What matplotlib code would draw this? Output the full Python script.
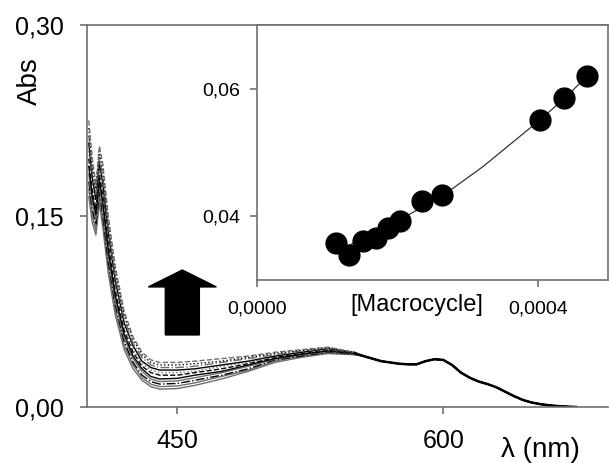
import matplotlib
matplotlib.use("Agg")
import matplotlib.pyplot as plt
from matplotlib.patches import FancyArrow

plt.rcParams['font.family'] = ['Liberation Sans', 'DejaVu Sans']

# spectra: front part differs per titration step, tail is common
wl_front = [400, 402, 404, 406, 408, 411, 415, 420, 425, 430, 435, 440, 450, 460, 475, 490, 505, 520, 535, 550]
spectra = [
    [0.165, 0.145, 0.135, 0.160, 0.140, 0.105, 0.072, 0.045, 0.030, 0.021, 0.016, 0.014, 0.0145, 0.017, 0.022, 0.028, 0.035, 0.039, 0.042, 0.041],
    [0.171, 0.150, 0.139, 0.165, 0.145, 0.110, 0.076, 0.048, 0.033, 0.023, 0.018, 0.016, 0.0165, 0.019, 0.024, 0.029, 0.036, 0.040, 0.0425, 0.0412],
    [0.177, 0.155, 0.143, 0.169, 0.150, 0.114, 0.080, 0.051, 0.035, 0.025, 0.020, 0.018, 0.0185, 0.021, 0.025, 0.030, 0.037, 0.040, 0.043, 0.0415],
    [0.183, 0.160, 0.147, 0.174, 0.155, 0.119, 0.083, 0.054, 0.038, 0.028, 0.022, 0.020, 0.0205, 0.023, 0.027, 0.032, 0.0375, 0.041, 0.0435, 0.0418],
    [0.189, 0.165, 0.151, 0.178, 0.160, 0.123, 0.087, 0.057, 0.040, 0.030, 0.024, 0.022, 0.0225, 0.025, 0.028, 0.033, 0.038, 0.0415, 0.044, 0.042],
    [0.195, 0.170, 0.155, 0.183, 0.165, 0.128, 0.091, 0.060, 0.043, 0.032, 0.027, 0.025, 0.025, 0.027, 0.030, 0.034, 0.0388, 0.042, 0.0445, 0.0422],
    [0.201, 0.175, 0.159, 0.187, 0.170, 0.132, 0.095, 0.063, 0.045, 0.034, 0.029, 0.027, 0.027, 0.028, 0.032, 0.035, 0.0395, 0.0425, 0.045, 0.0424],
    [0.207, 0.180, 0.163, 0.192, 0.175, 0.137, 0.099, 0.066, 0.048, 0.036, 0.031, 0.029, 0.029, 0.030, 0.033, 0.036, 0.040, 0.043, 0.0458, 0.0426],
    [0.213, 0.185, 0.167, 0.196, 0.180, 0.141, 0.102, 0.069, 0.050, 0.039, 0.033, 0.031, 0.031, 0.032, 0.035, 0.038, 0.041, 0.044, 0.0462, 0.0428],
    [0.219, 0.190, 0.171, 0.201, 0.185, 0.146, 0.106, 0.072, 0.053, 0.041, 0.035, 0.033, 0.033, 0.034, 0.036, 0.039, 0.042, 0.0445, 0.0466, 0.0429],
    [0.225, 0.195, 0.175, 0.205, 0.190, 0.150, 0.110, 0.075, 0.055, 0.043, 0.037, 0.035, 0.035, 0.036, 0.038, 0.040, 0.043, 0.045, 0.047, 0.043],
]
wl_tail = [555, 560, 565, 570, 575, 580, 585, 590, 595, 600, 605, 610, 615, 620, 625, 630, 635, 640, 645, 650, 655, 660, 665, 670, 675]
abs_tail = [0.040, 0.038, 0.036, 0.035, 0.034, 0.0335, 0.0335, 0.036, 0.0375, 0.037, 0.033, 0.027, 0.023, 0.020, 0.018,
            0.0155, 0.012, 0.0085, 0.0055, 0.0035, 0.0022, 0.0013, 0.0007, 0.0003, 0.0]

line_styles = [('#6e6e6e', '-'), ('#6e6e6e', '-'), ('black', '-.'), ('#6e6e6e', '-'), ('black', '-'),
               ('black', '--'), ('#6e6e6e', ':'), ('black', '-'), ('#6e6e6e', '-.'), ('black', ':'),
               ('#6e6e6e', '--')]

# inset: absorbance vs macrocycle concentration
conc = [1.125e-4, 1.314e-4, 1.513e-4, 1.694e-4, 1.869e-4, 2.036e-4, 2.353e-4, 2.638e-4, 4.029e-4, 4.374e-4, 4.702e-4]
absorb = [0.0358, 0.0339, 0.0361, 0.0366, 0.0382, 0.0392, 0.0424, 0.0433, 0.0551, 0.0586, 0.0620]
fit_conc = [1.14e-4, 1.6e-4, 2.04e-4, 2.63e-4, 3.22e-4, 4.03e-4, 4.4e-4, 4.64e-4]
fit_abs = [0.0345, 0.0370, 0.0395, 0.0431, 0.0478, 0.0551, 0.0587, 0.0613]

fig = plt.figure(figsize=(6.09, 4.63), dpi=100)
ax = fig.add_axes([87/609, 56/463, 521/609, 382/463])

for vals, (col, ls) in zip(spectra, line_styles):
    ax.plot(wl_front + wl_tail, vals + abs_tail, color=col, ls=ls, lw=1.0)
# overlapping spectra merge into one dark trace at long wavelengths
ax.plot(wl_front[-1:] + wl_tail, spectra[5][-1:] + abs_tail, color='black', lw=1.8)

ax.set_xlim(399, 693)
ax.set_ylim(0, 0.30)
ax.set_xticks([450, 600])
ax.set_xticklabels(['450', '600'])
ax.set_yticks([0, 0.15, 0.30])
ax.set_yticklabels(['0,00', '0,15', '0,30'])
ax.tick_params(labelsize=18, color='#707070', length=5, width=1.2)
ax.tick_params(axis='y', pad=12)
ax.tick_params(axis='x', pad=11)
ax.spines['right'].set_visible(False)
for s in ['left', 'bottom', 'top']:
    ax.spines[s].set_color('#707070')
    ax.spines[s].set_linewidth(1.2)
ax.text(-0.11, 0.853, 'Abs', transform=ax.transAxes, rotation=90,
        fontsize=20, ha='center', va='center')
ax.text(0.87, -0.113, 'λ (nm)', transform=ax.transAxes,
        fontsize=20, ha='center', va='center')

# big arrow showing the increase
ax.add_patch(FancyArrow(452.8, 0.0566, 0, 0.051, width=19.2, head_width=38.4,
                        head_length=0.0133, length_includes_head=True,
                        color='black', zorder=5))

ins = fig.add_axes([257/609, 183/463, 351/609, 255/463])
ins.plot(fit_conc, fit_abs, color='#333333', lw=0.9)
ins.plot(conc, absorb, 'o', color='black', ms=15)
ins.set_xlim(0, 0.0005)
ins.set_ylim(0.03, 0.07)
ins.set_xticks([0, 0.0004])
ins.set_xticklabels(['0,0000', '0,0004'])
ins.set_yticks([0.04, 0.06])
ins.set_yticklabels(['0,04', '0,06'])
ins.tick_params(labelsize=14, color='#707070', length=5, width=1.2)
ins.tick_params(axis='y', pad=7)
ins.tick_params(axis='x', pad=10)
for s in ins.spines.values():
    s.set_color('#707070')
    s.set_linewidth(1.2)
ins.text(0.456, -0.098, '[Macrocycle]', transform=ins.transAxes,
         fontsize=17, ha='center', va='center')

fig.savefig('out.png', dpi=100)
